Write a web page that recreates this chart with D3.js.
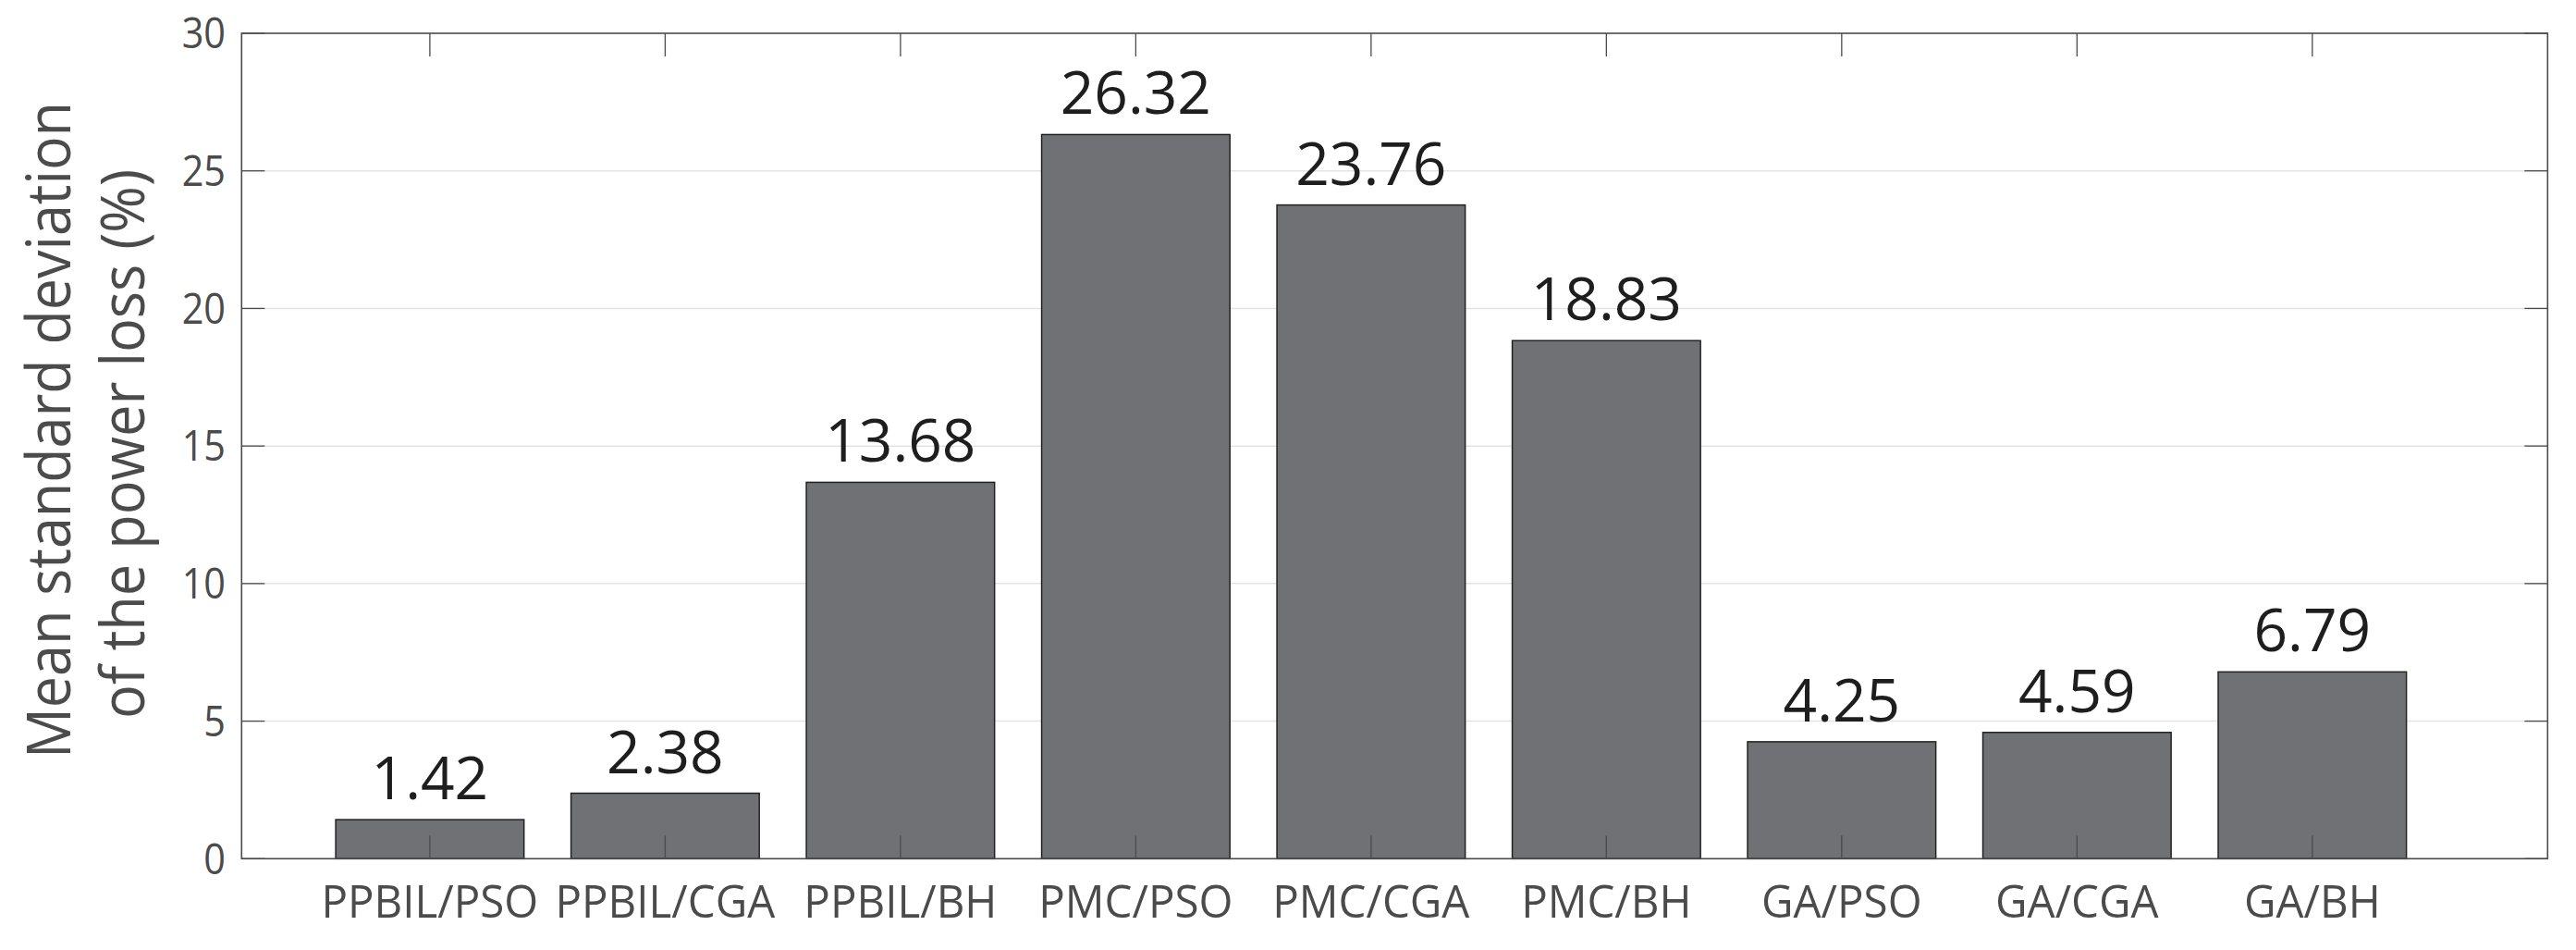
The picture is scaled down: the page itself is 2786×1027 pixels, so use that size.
<!DOCTYPE html>
<html>
<head>
<meta charset="utf-8">
<script src="https://cdn.jsdelivr.net/npm/d3@7/dist/d3.min.js"></script>
<style>
  html, body { margin: 0; padding: 0; background: #ffffff; }
  svg { display: block; }
</style>
</head>
<body>
<svg id="chart" width="2786" height="1027"></svg>
<script>
// ---- data ----
const categories = ["PPBIL/PSO", "PPBIL/CGA", "PPBIL/BH", "PMC/PSO", "PMC/CGA", "PMC/BH", "GA/PSO", "GA/CGA", "GA/BH"];
const values = [1.42, 2.38, 13.68, 26.32, 23.76, 18.83, 4.25, 4.59, 6.79];
const valueLabels = ["1.42", "2.38", "13.68", "26.32", "23.76", "18.83", "4.25", "4.59", "6.79"];
const yTicks = [0, 5, 10, 15, 20, 25, 30];
const yTitleLines = ["Mean standard deviation", "of the power loss (%)"];

(function () {
// ---- layout ----
const pLeft = 261.3, pRight = 2755.3, pTop = 36, pBottom = 928.3;
const font = "'Open Sans', 'Noto Sans', sans-serif";
const axisColor = "#4b4b4b";

const svg = d3.select("#chart");

// numeric x scale mimicking xlim [0.2, 10] with bars at 1..9
const x = d3.scaleLinear().domain([0.2, 10]).range([pLeft, pRight]);
const y = d3.scaleLinear().domain([0, 30]).range([pBottom, pTop]);
const barW = x(1.8) - x(1.0);
const idx = categories.map((c, i) => i + 1);

// grid
svg.append("g").selectAll("line").data(yTicks.filter(t => t > 0 && t < 30)).join("line")
  .attr("x1", pLeft).attr("x2", pRight)
  .attr("y1", d => y(d)).attr("y2", d => y(d))
  .attr("stroke", "#e3e3e3").attr("stroke-width", 1.5);

// bars
svg.append("g").selectAll("rect").data(values).join("rect")
  .attr("x", (d, i) => x(idx[i]) - barW / 2)
  .attr("width", barW)
  .attr("y", d => y(d))
  .attr("height", d => y(0) - y(d))
  .attr("fill", "#707174")
  .attr("stroke", "#222222")
  .attr("stroke-width", 1.5);

// ticks (inward, all four sides)
const tickLen = 25;
const ticksG = svg.append("g").attr("stroke", axisColor).attr("stroke-width", 1.3);
ticksG.append("g").selectAll("line").data(idx).join("line")
  .attr("x1", d => x(d)).attr("x2", d => x(d))
  .attr("y1", pBottom).attr("y2", pBottom - tickLen);
ticksG.append("g").selectAll("line").data(idx).join("line")
  .attr("x1", d => x(d)).attr("x2", d => x(d))
  .attr("y1", pTop).attr("y2", pTop + tickLen);
ticksG.append("g").selectAll("line").data(yTicks).join("line")
  .attr("x1", pLeft).attr("x2", pLeft + tickLen)
  .attr("y1", d => y(d)).attr("y2", d => y(d));
ticksG.append("g").selectAll("line").data(yTicks).join("line")
  .attr("x1", pRight).attr("x2", pRight - tickLen)
  .attr("y1", d => y(d)).attr("y2", d => y(d));

// box
svg.append("rect")
  .attr("x", pLeft).attr("y", pTop)
  .attr("width", pRight - pLeft).attr("height", pBottom - pTop)
  .attr("fill", "none").attr("stroke", axisColor).attr("stroke-width", 1.6);

// helper to narrow text (Myriad-like width)
function narrow(sel, factor) {
  sel.each(function () {
    const w = this.getComputedTextLength();
    d3.select(this).attr("textLength", w * factor).attr("lengthAdjust", "spacingAndGlyphs");
  });
}

// y tick labels
svg.append("g").selectAll("text").data(yTicks).join("text")
  .attr("x", 244).attr("y", d => y(d))
  .attr("dy", "0.36em")
  .attr("text-anchor", "end")
  .attr("font-family", font).attr("font-size", 45)
  .attr("fill", axisColor)
  .text(d => d)
  .call(narrow, 0.92);

// x tick labels
svg.append("g").selectAll("text").data(categories).join("text")
  .attr("x", (d, i) => x(idx[i])).attr("y", 992)
  .attr("text-anchor", "middle")
  .attr("font-family", font).attr("font-size", 50)
  .attr("fill", axisColor)
  .text(d => d)
  .call(narrow, 0.95);

// value labels
svg.append("g").selectAll("text").data(values).join("text")
  .attr("x", (d, i) => x(idx[i])).attr("y", d => y(d) - 22)
  .attr("text-anchor", "middle")
  .attr("font-family", font).attr("font-size", 64)
  .attr("fill", "#1e1e1e")
  .text((d, i) => valueLabels[i]);

// y title
const titlePos = [{ bx: 76, cy: 465, len: 710 }, { bx: 156, cy: 480, len: 594 }];
svg.append("g").selectAll("text").data(yTitleLines).join("text")
  .attr("transform", (d, i) => `translate(${titlePos[i].bx},${titlePos[i].cy}) rotate(-90)`)
  .attr("text-anchor", "middle")
  .attr("font-family", font).attr("font-size", 66)
  .attr("fill", axisColor)
  .attr("textLength", (d, i) => titlePos[i].len)
  .attr("lengthAdjust", "spacingAndGlyphs")
  .text(d => d);
})();
</script>
</body>
</html>
